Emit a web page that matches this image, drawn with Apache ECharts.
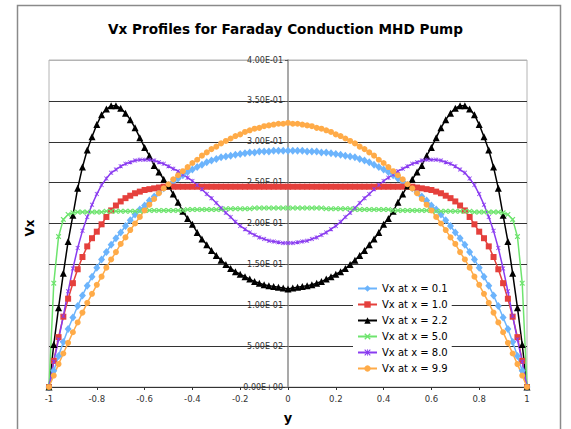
<!DOCTYPE html>
<html><head><meta charset="utf-8">
<script src="https://cdn.jsdelivr.net/npm/echarts@6/dist/echarts.min.js"></script>
<style>html,body{margin:0;padding:0;background:#fff}#c{width:571px;height:429px}</style>
</head><body><div id="c"></div>
<script>
// y positions across the channel
const positions = [-1,-0.98,-0.96,-0.94,-0.92,-0.9,-0.88,-0.86,-0.84,-0.82,-0.8,-0.78,-0.76,-0.74,-0.72,-0.7,-0.68,-0.66,-0.64,-0.62,-0.6,-0.58,-0.56,-0.54,-0.52,-0.5,-0.48,-0.46,-0.44,-0.42,-0.4,-0.38,-0.36,-0.34,-0.32,-0.3,-0.28,-0.26,-0.24,-0.22,-0.2,-0.18,-0.16,-0.14,-0.12,-0.1,-0.08,-0.06,-0.04,-0.02,0,0.02,0.04,0.06,0.08,0.1,0.12,0.14,0.16,0.18,0.2,0.22,0.24,0.26,0.28,0.3,0.32,0.34,0.36,0.38,0.4,0.42,0.44,0.46,0.48,0.5,0.52,0.54,0.56,0.58,0.6,0.62,0.64,0.66,0.68,0.7,0.72,0.74,0.76,0.78,0.8,0.82,0.84,0.86,0.88,0.9,0.92,0.94,0.96,0.98,1];

const vxAt01 = [0,0.020,0.038,0.055,0.071,0.085,0.099,0.112,0.124,0.135,
0.146,0.156,0.165,0.174,0.182,0.189,0.197,0.204,0.211,0.217,
0.222,0.228,0.233,0.238,0.243,0.247,0.251,0.255,0.259,0.263,
0.266,0.269,0.272,0.275,0.277,0.279,0.281,0.282,0.283,0.284,
0.285,0.286,0.287,0.287,0.288,0.288,0.288,0.289,0.289,0.289,
0.289,
0.289,0.289,0.289,0.288,0.288,0.288,0.287,0.287,0.286,0.285,
0.284,0.283,0.282,0.281,0.279,0.277,0.275,0.272,0.269,0.266,
0.263,0.259,0.255,0.251,0.247,0.243,0.238,0.233,0.228,0.222,
0.217,0.211,0.204,0.197,0.189,0.182,0.174,0.165,0.156,0.146,
0.135,0.124,0.112,0.099,0.085,0.071,0.055,0.038,0.020,0];

const vxAt10 = [0,0.032,0.061,0.086,0.108,0.127,0.144,0.159,0.172,0.182,
0.190,0.199,0.208,0.216,0.222,0.227,0.231,0.234,0.237,0.239,
0.241,0.242,0.243,0.244,0.245,0.245,0.245,0.245,0.245,0.245,
0.245,0.245,0.245,0.245,0.245,0.245,0.245,0.245,0.245,0.245,
0.245,0.245,0.245,0.245,0.245,0.245,0.245,0.245,0.245,0.245,
0.245,
0.245,0.245,0.245,0.245,0.245,0.245,0.245,0.245,0.245,0.245,
0.245,0.245,0.245,0.245,0.245,0.245,0.245,0.245,0.245,0.245,
0.245,0.245,0.245,0.245,0.245,0.245,0.244,0.243,0.242,0.241,
0.239,0.237,0.234,0.231,0.227,0.222,0.216,0.208,0.199,0.190,
0.182,0.172,0.159,0.144,0.127,0.108,0.086,0.061,0.032,0];

const vxAt22 = [0,0.052,0.097,0.139,0.178,0.210,0.243,0.269,0.290,0.306,
0.321,0.333,0.340,0.344,0.344,0.341,0.335,0.327,0.317,0.305,
0.293,0.283,0.271,0.263,0.254,0.246,0.236,0.226,0.215,0.206,
0.199,0.189,0.181,0.174,0.167,0.161,0.155,0.150,0.145,0.141,
0.138,0.135,0.132,0.129,0.127,0.125,0.124,0.123,0.122,0.121,
0.120,
0.121,0.122,0.123,0.124,0.125,0.127,0.129,0.132,0.135,0.138,
0.141,0.145,0.150,0.155,0.161,0.167,0.174,0.181,0.189,0.199,
0.206,0.215,0.226,0.236,0.246,0.254,0.263,0.271,0.283,0.293,
0.305,0.317,0.327,0.335,0.341,0.344,0.344,0.340,0.333,0.321,
0.306,0.290,0.269,0.243,0.210,0.178,0.139,0.097,0.052,0];

const vxAt50 = [0,0.127,0.184,0.205,0.211,0.213,0.214,0.214,0.214,0.214,
0.214,0.214,0.215,0.215,0.215,0.215,0.215,0.215,0.215,0.215,
0.216,0.216,0.216,0.216,0.216,0.216,0.216,0.216,0.216,0.217,
0.217,0.217,0.217,0.217,0.217,0.217,0.217,0.218,0.218,0.218,
0.218,0.218,0.218,0.219,0.219,0.219,0.219,0.219,0.219,0.219,
0.219,
0.219,0.219,0.219,0.219,0.219,0.219,0.219,0.218,0.218,0.218,
0.218,0.218,0.218,0.217,0.217,0.217,0.217,0.217,0.217,0.217,
0.217,0.216,0.216,0.216,0.216,0.216,0.216,0.216,0.216,0.216,
0.215,0.215,0.215,0.215,0.215,0.215,0.215,0.215,0.214,0.214,
0.214,0.214,0.214,0.214,0.213,0.211,0.205,0.184,0.127,0];

const vxAt80 = [0,0.031,0.058,0.087,0.117,0.145,0.170,0.191,0.208,0.223,
0.236,0.247,0.255,0.262,0.266,0.270,0.273,0.275,0.277,0.278,
0.278,0.278,0.277,0.275,0.273,0.270,0.267,0.264,0.260,0.256,
0.252,0.247,0.242,0.236,0.231,0.225,0.219,0.213,0.208,0.202,
0.197,0.193,0.189,0.186,0.183,0.181,0.179,0.178,0.177,0.176,
0.176,
0.176,0.177,0.178,0.179,0.181,0.183,0.186,0.189,0.193,0.197,
0.202,0.208,0.213,0.219,0.225,0.231,0.236,0.242,0.247,0.252,
0.256,0.260,0.264,0.267,0.270,0.273,0.275,0.277,0.278,0.278,
0.278,0.277,0.275,0.273,0.270,0.266,0.262,0.255,0.247,0.236,
0.223,0.208,0.191,0.170,0.145,0.117,0.087,0.058,0.031,0];

const vxAt99 = [0,0.014,0.028,0.041,0.054,0.067,0.079,0.091,0.103,0.114,
0.125,0.135,0.146,0.156,0.165,0.175,0.183,0.192,0.200,0.208,
0.216,0.223,0.230,0.237,0.243,0.248,0.254,0.259,0.264,0.269,
0.274,0.278,0.283,0.287,0.291,0.294,0.298,0.301,0.304,0.307,
0.309,0.312,0.314,0.316,0.317,0.319,0.320,0.321,0.322,0.322,
0.323,
0.322,0.322,0.321,0.320,0.319,0.317,0.316,0.314,0.312,0.309,
0.307,0.304,0.301,0.298,0.294,0.291,0.287,0.283,0.278,0.274,
0.269,0.264,0.259,0.254,0.248,0.243,0.237,0.230,0.223,0.216,
0.208,0.200,0.192,0.183,0.175,0.165,0.156,0.146,0.135,0.125,
0.114,0.103,0.091,0.079,0.067,0.054,0.041,0.028,0.014,0];

const seriesNames = ['Vx at x = 0.1','Vx at x = 1.0','Vx at x = 2.2','Vx at x = 5.0','Vx at x = 8.0','Vx at x = 9.9'];
const yTickLabels = ['0.00E+00','5.00E-02','1.00E-01','1.50E-01','2.00E-01','2.50E-01','3.00E-01','3.50E-01','4.00E-01'];
const xTickLabels = ['-1','-0.8','-0.6','-0.4','-0.2','0','0.2','0.4','0.6','0.8','1'];

const xPath = 'path://M0,1.5L1.5,0L5,3.5L8.5,0L10,1.5L6.5,5L10,8.5L8.5,10L5,6.5L1.5,10L0,8.5L3.5,5Z';
const starPath = 'path://M0,1.2L1.2,0L5,3.8L8.8,0L10,1.2L6.2,5L10,8.8L8.8,10L5,6.2L1.2,10L0,8.8L3.8,5ZM4.4,0L5.6,0L5.6,10L4.4,10Z';

const valueSets = [vxAt01, vxAt10, vxAt22, vxAt50, vxAt80, vxAt99];
const colors = ['#6cb4fc','#e5403c','#000000','#6ee46e','#8a3cf0','#ffab48'];
const symbols = ['diamond','rect','triangle',xPath,starPath,'circle'];
const sizes = [[7,8],6,[7,7],5.5,4.5,6];

const FONT = 'DejaVu Sans';
const chart = echarts.init(document.getElementById('c'), null, {renderer: 'svg'});
chart.setOption({
  animation: false,
  backgroundColor: '#fff',
  title: {
    text: 'Vx Profiles for Faraday Conduction MHD Pump',
    left: 'center', top: 22, padding: [0,0,0,15],
    textStyle: {fontFamily: FONT, fontWeight: 'bold', fontSize: 13.6, color: '#000'}
  },
  grid: {left: 49, right: 44, top: 60, bottom: 35, show: true, borderColor: '#b4b4b4', borderWidth: 1},
  legend: {
    orient: 'vertical', left: 353, top: 280, padding: [3,4],
    backgroundColor: '#fff', itemWidth: 19, itemHeight: 8, itemGap: 5,
    textStyle: {fontFamily: FONT, fontSize: 10, color: '#000', lineHeight: 11},
    data: seriesNames
  },
  xAxis: {
    type: 'value', min: -1, max: 1, interval: 0.2,
    name: 'y', nameLocation: 'middle', nameGap: 24,
    nameTextStyle: {fontFamily: FONT, fontWeight: 'bold', fontSize: 13, color: '#000'},
    axisLine: {onZero: false, lineStyle: {color: '#333', width: 1}},
    axisTick: {show: true, length: 3, lineStyle: {color: '#333'}},
    axisLabel: {fontFamily: FONT, fontSize: 8.5, color: '#333', margin: 7,
      formatter: v => xTickLabels[Math.round((v + 1) / 0.2)]},
    splitLine: {show: false}
  },
  yAxis: {
    type: 'value', min: 0, max: 0.4, interval: 0.05,
    position: 'left', offset: -239,
    axisLine: {show: true, onZero: false, lineStyle: {color: '#8c8c8c', width: 1.5}},
    axisTick: {show: true, length: 3, lineStyle: {color: '#555'}},
    axisLabel: {fontFamily: FONT, fontSize: 8, color: '#333', margin: 5,
      formatter: v => yTickLabels[Math.round(v / 0.05)]},
    splitLine: {show: true, lineStyle: {color: ['#333','#333','#333','#333','#333','#333','#333','#333','#b4b4b4'], width: 1}}
  },
  graphic: [
    {type: 'rect', shape: {x: 17.5, y: 5.5, width: 543, height: 440}, style: {fill: 'none', stroke: '#8a8a8a', lineWidth: 1.5}, z: 0, silent: true},
    {type: 'text', x: 30, y: 228, rotation: Math.PI / 2, style: {text: 'Vx', font: 'bold 12px "DejaVu Sans"', fill: '#000', textAlign: 'center', textVerticalAlign: 'middle'}}
  ],
  series: valueSets.map((vals, i) => ({
    type: 'line', name: seriesNames[i],
    data: positions.map((p, j) => [p, vals[j]]),
    symbol: symbols[i], symbolSize: sizes[i], showSymbol: true, clip: false,
    lineStyle: {color: colors[i], width: 1.5},
    itemStyle: {color: colors[i], borderWidth: 0},
    emphasis: {disabled: true}
  }))
});
</script></body></html>
